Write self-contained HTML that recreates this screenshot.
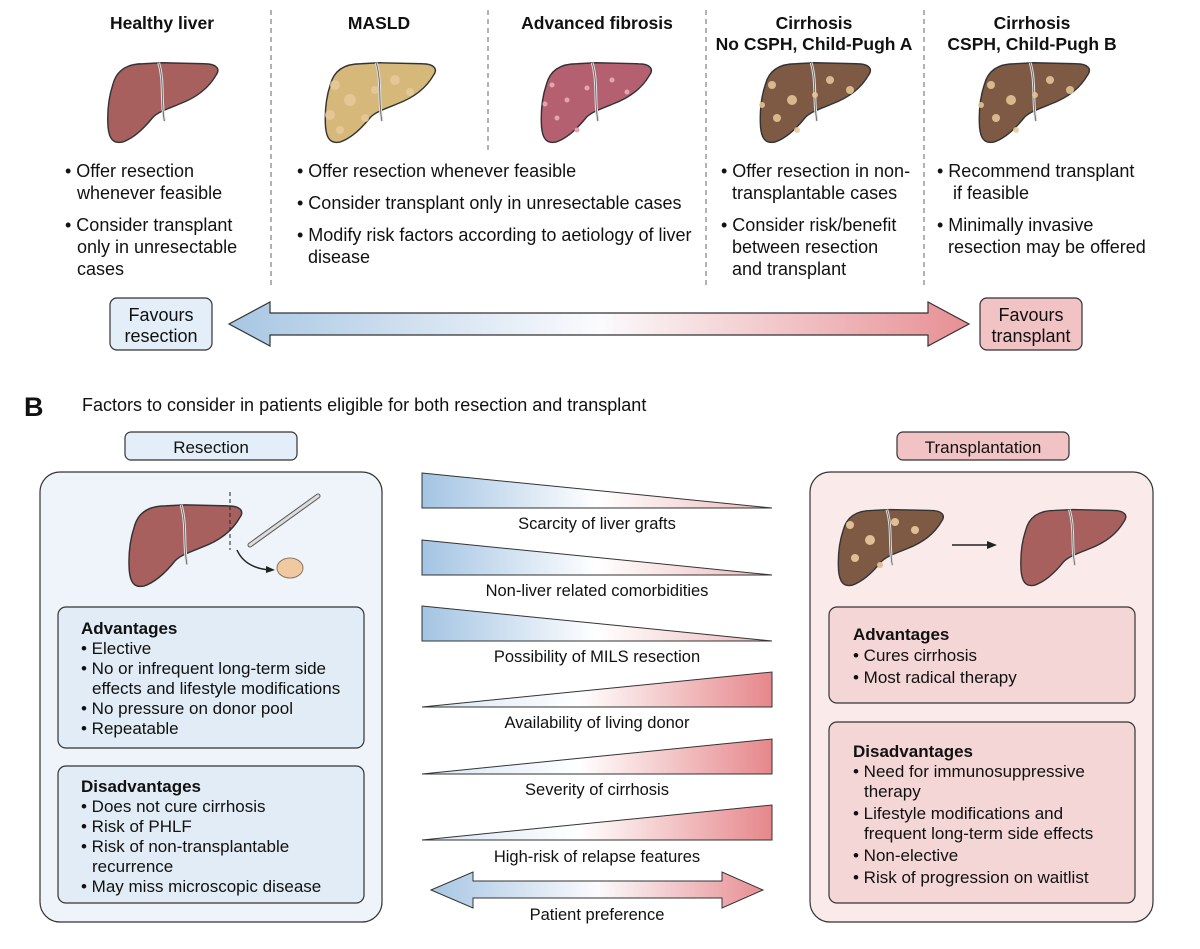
<!DOCTYPE html>
<html><head><meta charset="utf-8"><style>
body{margin:0;background:#fff}
svg{display:block}
text{font-family:"Liberation Sans",Arial,sans-serif;fill:#111}
</style></head><body>
<svg width="1200" height="949" viewBox="0 0 1200 949" xmlns="http://www.w3.org/2000/svg">
<defs>
<linearGradient id="bp" x1="0" x2="1" y1="0" y2="0"><stop offset="0" stop-color="#a7c6e3"/><stop offset="0.5" stop-color="#fbfbfd"/><stop offset="1" stop-color="#e78f93"/></linearGradient>
<linearGradient id="bw2" x1="0" x2="1"><stop offset="0" stop-color="#a3c4e3"/><stop offset="0.5" stop-color="#fff"/><stop offset="1" stop-color="#eeb9bb"/></linearGradient>
<linearGradient id="lw" x1="0" x2="1"><stop offset="0" stop-color="#d7e5f2"/><stop offset="0.45" stop-color="#fff"/><stop offset="1" stop-color="#e6878b"/></linearGradient>
<symbol id="liver" viewBox="0 0 120 90"><path d="M8,28 C12,12 24,6 40,6 L60,5 L104,6 C116,6 121,11 116,18 C108,32 94,42 78,48 C66,53 56,56 50,62 C42,72 30,84 18,88 C8,90 4,84 3,72 C2,56 4,40 8,28 Z" stroke="#333" stroke-width="1.5" fill="currentColor"/><path d="M56,5 C62,25 58,45 62,66" stroke="#ddd" stroke-width="3" fill="none"/><path d="M56,5 C62,25 58,45 62,66" stroke="#555" stroke-width="0.8" fill="none"/></symbol>
</defs>

<g font-weight="bold" font-size="17.5" text-anchor="middle">
<text x="162" y="29">Healthy liver</text>
<text x="379" y="29">MASLD</text>
<text x="597" y="29">Advanced fibrosis</text>
<text x="814" y="29">Cirrhosis</text><text x="814" y="50">No CSPH, Child-Pugh A</text>
<text x="1032" y="29">Cirrhosis</text><text x="1032" y="50">CSPH, Child-Pugh B</text>
</g>
<g stroke="#666" stroke-dasharray="5,4" stroke-width="1">
<line x1="271" y1="10" x2="271" y2="288"/><line x1="488" y1="10" x2="488" y2="150"/>
<line x1="706" y1="10" x2="706" y2="288"/><line x1="924" y1="10" x2="924" y2="288"/>
</g>
<use href="#liver" x="99" y="58" width="127" height="86" color="#a8605f"/>
<use href="#liver" x="317" y="58" width="126" height="86" color="#d6b87a"/>
<use href="#liver" x="533" y="58" width="126" height="86" color="#b46070"/>
<use href="#liver" x="751" y="58" width="128" height="86" color="#7e5a44"/>
<use href="#liver" x="970" y="58" width="128" height="86" color="#7e5a44"/>
<g fill="#e8c99a" opacity="0.85">
<circle cx="335" cy="85" r="5"/><circle cx="350" cy="100" r="6"/><circle cx="330" cy="115" r="5"/><circle cx="395" cy="80" r="5"/><circle cx="410" cy="92" r="4"/><circle cx="340" cy="130" r="4"/><circle cx="365" cy="118" r="4"/><circle cx="375" cy="90" r="4"/>
<circle cx="772" cy="85" r="4"/><circle cx="792" cy="100" r="5"/><circle cx="777" cy="118" r="4"/><circle cx="830" cy="80" r="4"/><circle cx="850" cy="90" r="4"/><circle cx="797" cy="130" r="3"/><circle cx="762" cy="105" r="3"/><circle cx="815" cy="95" r="3"/>
<circle cx="991" cy="85" r="4"/><circle cx="1011" cy="100" r="5"/><circle cx="996" cy="118" r="4"/><circle cx="1050" cy="80" r="4"/><circle cx="1070" cy="90" r="4"/><circle cx="1016" cy="130" r="3"/><circle cx="981" cy="105" r="3"/><circle cx="1035" cy="95" r="3"/>
</g>
<g fill="#e5a5b0"><circle cx="552" cy="85" r="2.5"/><circle cx="567" cy="100" r="2.5"/><circle cx="557" cy="118" r="2.5"/><circle cx="612" cy="80" r="2.5"/><circle cx="627" cy="92" r="2.5"/><circle cx="577" cy="130" r="2.5"/><circle cx="545" cy="104" r="2.5"/><circle cx="587" cy="88" r="2.5"/></g>

<g font-size="18">
<text x="65" y="177">• Offer resection</text><text x="77" y="199">whenever feasible</text>
<text x="65" y="231">• Consider transplant</text><text x="77" y="253">only in unresectable</text><text x="77" y="275">cases</text>
<text x="297" y="177">• Offer resection whenever feasible</text>
<text x="297" y="209">• Consider transplant only in unresectable cases</text>
<text x="297" y="241">• Modify risk factors according to aetiology of liver</text><text x="308" y="263">disease</text>
<text x="721" y="177">• Offer resection in non-</text><text x="732" y="199">transplantable cases</text>
<text x="721" y="231">• Consider risk/benefit</text><text x="732" y="253">between resection</text><text x="732" y="275">and transplant</text>
<text x="937" y="177">• Recommend transplant</text><text x="953" y="199">if feasible</text>
<text x="937" y="231">• Minimally invasive</text><text x="948" y="253">resection may be offered</text>
</g>

<rect x="110" y="298" width="102" height="52" rx="7" fill="#e3eef8" stroke="#333" stroke-width="1.2"/>
<text x="161" y="321" font-size="18" text-anchor="middle">Favours</text><text x="161" y="342" font-size="18" text-anchor="middle">resection</text>
<rect x="980" y="298" width="102" height="52" rx="7" fill="#f1c3c4" stroke="#333" stroke-width="1.2"/>
<text x="1031" y="321" font-size="18" text-anchor="middle">Favours</text><text x="1031" y="342" font-size="18" text-anchor="middle">transplant</text>
<path d="M229,324 L270,302 L270,313 L928,313 L928,302 L969,324 L928,346 L928,335 L270,335 L270,346 Z" fill="url(#bp)" stroke="#333" stroke-width="1.2"/>

<text x="24" y="416" font-size="27" font-weight="bold">B</text>
<text x="82" y="411" font-size="18">Factors to consider in patients eligible for both resection and transplant</text>

<rect x="125" y="432" width="172" height="28" rx="6" fill="#e3eef8" stroke="#333" stroke-width="1.2"/>
<text x="211" y="453" font-size="17" text-anchor="middle">Resection</text>
<rect x="40" y="472" width="342" height="450" rx="20" fill="#eef4fa" stroke="#333" stroke-width="1.2"/>
<use href="#liver" x="120" y="500" width="130" height="88" color="#a8605f"/>
<line x1="230" y1="492" x2="230" y2="550" stroke="#222" stroke-dasharray="4,3"/>
<line x1="250" y1="545" x2="318" y2="496" stroke="#555" stroke-width="5" stroke-linecap="round"/>
<line x1="250" y1="545" x2="318" y2="496" stroke="#ddd" stroke-width="3" stroke-linecap="round"/>
<path d="M237,550 Q245,568 270,570" fill="none" stroke="#222" stroke-width="1.5"/><path d="M266,566 L275,570 L266,573 Z" fill="#222"/>
<ellipse cx="290" cy="568" rx="13" ry="10" fill="#f0c9a0" stroke="#876" />
<rect x="58" y="607" width="306" height="141" rx="8" fill="#e2ecf6" stroke="#333" stroke-width="1.2"/>
<g font-size="17"><text x="81" y="634" font-weight="bold">Advantages</text>
<text x="81" y="654">• Elective</text><text x="81" y="674">• No or infrequent long-term side</text><text x="92" y="694">effects and lifestyle modifications</text>
<text x="81" y="714">• No pressure on donor pool</text><text x="81" y="734">• Repeatable</text></g>
<rect x="58" y="766" width="306" height="137" rx="8" fill="#e2ecf6" stroke="#333" stroke-width="1.2"/>
<g font-size="17"><text x="81" y="792" font-weight="bold">Disadvantages</text>
<text x="81" y="812">• Does not cure cirrhosis</text><text x="81" y="832">• Risk of PHLF</text><text x="81" y="852">• Risk of non-transplantable</text><text x="92" y="872">recurrence</text><text x="81" y="892">• May miss microscopic disease</text></g>

<rect x="897" y="432" width="172" height="28" rx="6" fill="#f1c3c4" stroke="#333" stroke-width="1.2"/>
<text x="983" y="453" font-size="17" text-anchor="middle">Transplantation</text>
<rect x="810" y="472" width="343" height="450" rx="20" fill="#fbeaea" stroke="#333" stroke-width="1.2"/>
<use href="#liver" x="828" y="505" width="125" height="82" color="#7e5a44"/>
<g fill="#e0bf96"><circle cx="850" cy="525" r="4"/><circle cx="870" cy="540" r="5"/><circle cx="855" cy="558" r="4"/><circle cx="895" cy="522" r="4"/><circle cx="915" cy="530" r="4"/><circle cx="880" cy="565" r="3"/></g>
<line x1="952" y1="545" x2="990" y2="545" stroke="#222" stroke-width="1.5"/><path d="M987,541 L997,545 L987,549 Z" fill="#222"/>
<use href="#liver" x="1012" y="505" width="122" height="82" color="#a8605f"/>
<rect x="829" y="607" width="306" height="96" rx="8" fill="#f5d6d6" stroke="#333" stroke-width="1.2"/>
<g font-size="17"><text x="853" y="640" font-weight="bold">Advantages</text>
<text x="853" y="661">• Cures cirrhosis</text><text x="853" y="683">• Most radical therapy</text></g>
<rect x="829" y="722" width="306" height="181" rx="8" fill="#f5d6d6" stroke="#333" stroke-width="1.2"/>
<g font-size="17"><text x="853" y="757" font-weight="bold">Disadvantages</text>
<text x="853" y="777">• Need for immunosuppressive</text><text x="864" y="797">therapy</text><text x="853" y="819">• Lifestyle modifications and</text><text x="864" y="839">frequent long-term side effects</text>
<text x="853" y="861">• Non-elective</text><text x="853" y="883">• Risk of progression on waitlist</text></g>

<g stroke="#333" stroke-width="1">
<path d="M422,473 L772,508 L422,508 Z" fill="url(#bw2)"/>
<path d="M422,540 L772,575 L422,575 Z" fill="url(#bw2)"/>
<path d="M422,606 L772,641 L422,641 Z" fill="url(#bw2)"/>
<path d="M422,707 L772,672 L772,707 Z" fill="url(#lw)"/>
<path d="M422,774 L772,739 L772,774 Z" fill="url(#lw)"/>
<path d="M422,840 L772,805 L772,840 Z" fill="url(#lw)"/>
<path d="M431,890 L473,872 L473,881 L722,881 L722,872 L763,890 L722,908 L722,898 L473,898 L473,908 Z" fill="url(#bp)"/>
</g>
<g font-size="16.5" text-anchor="middle">
<text x="597" y="529">Scarcity of liver grafts</text>
<text x="597" y="596">Non-liver related comorbidities</text>
<text x="597" y="662">Possibility of MILS resection</text>
<text x="597" y="728">Availability of living donor</text>
<text x="597" y="795">Severity of cirrhosis</text>
<text x="597" y="862">High-risk of relapse features</text>
<text x="597" y="920">Patient preference</text>
</g>
</svg>
</body></html>
